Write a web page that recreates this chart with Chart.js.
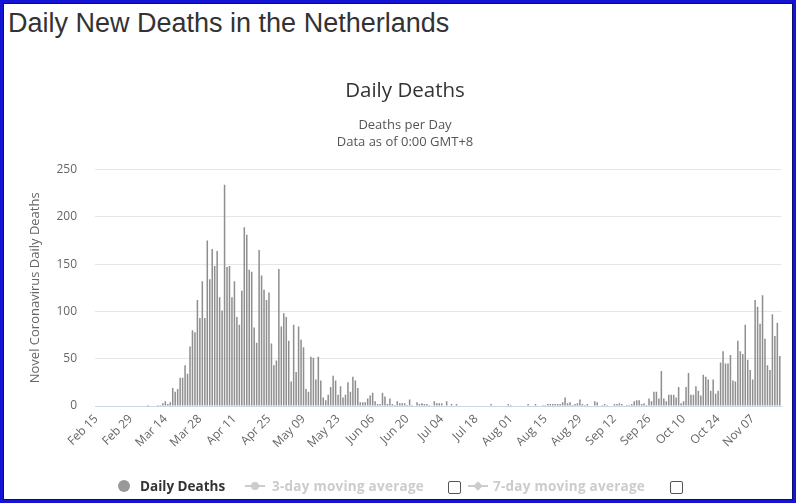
<!DOCTYPE html>
<html>
<head>
<meta charset="utf-8">
<title>Daily New Deaths in the Netherlands</title>
<script src="https://cdn.jsdelivr.net/npm/chart.js@4.4.0/dist/chart.umd.min.js"></script>
<style>
    html, body { margin: 0; padding: 0; background: #fff; }
    #frame {
        position: relative; width: 796px; height: 503px; box-sizing: border-box;
        border: 3px solid #1414d2; box-shadow: inset 0 0 0 1px #0c0c70;
        overflow: hidden; background: #fff;
    }
    #pageTitle {
        position: absolute; left: 5px; top: 7px; margin: 0;
        font-family: "Liberation Sans", Arial, sans-serif; font-weight: normal;
        font-size: 27px; line-height: 27px; color: #333; white-space: nowrap;
    }
    #deathsChart { position: absolute; left: -3px; top: -3px; }
    .lg { position: absolute; font-family: "Open Sans", sans-serif; font-weight: bold; font-size: 13.5px; line-height: 18px; white-space: nowrap; }
    .lg.off { color: #ccc; letter-spacing: 0.25px; }
    .dot { position: absolute; width: 12px; height: 12px; border-radius: 50%; background: #999; }
    .sym { position: absolute; width: 20px; height: 2px; background: #ccc; }
    .sym i { position: absolute; left: 6px; top: -3px; width: 8px; height: 8px; background: #ccc; border-radius: 50%; }
    .sym.diamond i { border-radius: 0; transform: rotate(45deg) scale(0.85); }
    .box { position: absolute; width: 11px; height: 11px; border: 1px solid #555; border-radius: 2px; background: #fff; }
</style>
</head>
<body>
<div id="frame">
    <h1 id="pageTitle">Daily New Deaths in the Netherlands</h1>
    <canvas id="deathsChart" width="796" height="503"></canvas>

    <div class="dot" style="left:115px; top:477px;"></div>
    <div class="lg" style="left:137px; top:474px; color:#333;">Daily Deaths</div>
    <div class="sym" style="left:242px; top:482px;"><i></i></div>
    <div class="lg off" style="left:269px; top:474px;">3-day moving average</div>
    <div class="box" style="left:445px; top:478px;"></div>
    <div class="sym diamond" style="left:465px; top:482px;"><i></i></div>
    <div class="lg off" style="left:490px; top:474px;">7-day moving average</div>
    <div class="box" style="left:667px; top:478px;"></div>
</div>

<script>
// daily deaths per month, Feb 15 .. Nov 18
const febDeaths = [0, 0, 0, 0, 0, 0, 0, 0, 0, 0, 0, 0, 0, 0, 0];
const marDeaths = [0, 0, 0, 0, 0, 0, 1, 0, 0, 0, 1, 1, 3, 5, 2, 4, 19, 15, 18, 30, 30, 43, 34, 63, 80, 78, 112, 93, 132, 93, 175];
const aprDeaths = [134, 166, 148, 164, 115, 101, 234, 147, 148, 115, 132, 94, 86, 122, 189, 181, 144, 142, 83, 67, 165, 138, 123, 112, 120, 66, 43, 48, 145, 84];
const mayDeaths = [98, 94, 69, 26, 86, 36, 84, 70, 62, 18, 15, 52, 51, 28, 52, 27, 9, 6, 12, 20, 32, 27, 12, 21, 9, 12, 25, 15, 31, 27, 19];
const junDeaths = [4, 4, 4, 8, 11, 14, 5, 2, 2, 14, 10, 2, 8, 2, 1, 5, 3, 3, 3, 1, 7, 1, 0, 4, 2, 3, 2, 2, 1, 0];
const julDeaths = [5, 3, 3, 3, 0, 5, 0, 2, 0, 2, 0, 0, 0, 0, 0, 0, 0, 0, 0, 0, 0, 0, 0, 2, 0, 0, 0, 0, 0, 0, 2];
const augDeaths = [1, 0, 0, 0, 0, 0, 0, 2, 0, 0, 2, 0, 0, 1, 1, 2, 2, 2, 2, 2, 2, 4, 9, 3, 4, 1, 2, 3, 7, 2, 1];
const sepDeaths = [2, 0, 0, 5, 4, 0, 1, 2, 1, 0, 0, 2, 2, 3, 2, 0, 1, 1, 2, 5, 6, 6, 2, 3, 1, 8, 5, 15, 15, 8];
const octDeaths = [37, 8, 5, 12, 12, 12, 9, 20, 3, 5, 20, 35, 12, 12, 21, 16, 11, 33, 31, 28, 16, 28, 13, 16, 46, 58, 45, 45, 54, 27, 26];
const novDeaths = [69, 58, 55, 86, 49, 38, 28, 112, 105, 87, 117, 71, 43, 38, 97, 74, 88, 53];

const tickLabels = ["Feb 15", "Feb 29", "Mar 14", "Mar 28", "Apr 11", "Apr 25", "May 09", "May 23", "Jun 06", "Jun 20",
    "Jul 04", "Jul 18", "Aug 01", "Aug 15", "Aug 29", "Sep 12", "Sep 26", "Oct 10", "Oct 24", "Nov 07"];

const monthNames = ["Jan", "Feb", "Mar", "Apr", "May", "Jun", "Jul", "Aug", "Sep", "Oct", "Nov", "Dec"];

const dailyDeaths = [].concat(febDeaths, marDeaths, aprDeaths, mayDeaths, junDeaths,
    julDeaths, augDeaths, sepDeaths, octDeaths, novDeaths);

// one category per day starting Feb 15
const dayLabels = dailyDeaths.map((v, i) => {
    const d = new Date(2020, 1, 15 + i);
    return monthNames[d.getMonth()] + " " + String(d.getDate()).padStart(2, "0");
});

Chart.defaults.font.family = "'Open Sans', sans-serif";

new Chart(document.getElementById("deathsChart"), {
    type: "bar",
    data: {
        labels: dayLabels,
        datasets: [{
            label: "Daily Deaths",
            data: dailyDeaths,
            backgroundColor: "#8f8f8f",
            barPercentage: 0.62,
            categoryPercentage: 1.0
        }]
    },
    options: {
        responsive: false,
        animation: false,
        layout: { padding: { top: 79, left: 20, right: 6, bottom: 37 } },
        plugins: {
            legend: { display: false },
            tooltip: { enabled: false },
            title: {
                display: true,
                text: "Daily Deaths",
                color: "#333",
                font: { size: 20.5, weight: "normal" },
                padding: { top: 0, bottom: 14 }
            },
            subtitle: {
                display: true,
                text: ["Deaths per Day", "Data as of 0:00 GMT+8"],
                color: "#555",
                font: { size: 13, lineHeight: 1.25 },
                padding: { top: 0, bottom: 19.5 }
            }
        },
        scales: {
            x: {
                grid: { display: false, drawTicks: false },
                border: { display: true, color: "#ccd6eb" },
                ticks: {
                    autoSkip: false,
                    minRotation: 45,
                    maxRotation: 45,
                    padding: 6,
                    color: "#666",
                    font: { size: 12 },
                    callback: function (value) {
                        const label = this.getLabelForValue(value);
                        return tickLabels.includes(label) ? label : "";
                    }
                },
                afterFit: function (scale) { scale.height = 60; }
            },
            y: {
                min: 0,
                max: 250,
                ticks: { stepSize: 50, padding: 18, color: "#666", font: { size: 12 } },
                grid: { color: "#e6e6e6", drawTicks: false },
                border: { display: false },
                title: {
                    display: true,
                    text: "Novel Coronavirus Daily Deaths",
                    color: "#666",
                    font: { size: 13 },
                    padding: { top: 7, bottom: 0 }
                },
                afterFit: function (scale) { scale.width = 75; }
            }
        }
    }
});
</script>
</body>
</html>
